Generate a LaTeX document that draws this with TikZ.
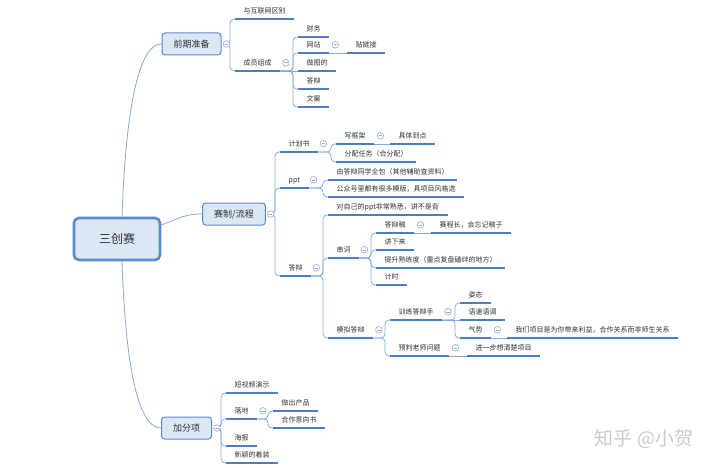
\documentclass[tikz,border=0pt]{standalone}
\usepackage{fontspec}
\setmainfont{Noto Sans CJK SC}
\usetikzlibrary{calc,backgrounds}
\definecolor{mapblue}{RGB}{74,125,196}
\definecolor{mapline}{RGB}{135,170,218}
\definecolor{mapfill}{RGB}{220,231,246}
\definecolor{mapedge}{RGB}{92,138,204}
\definecolor{maptext}{RGB}{50,50,50}
\definecolor{mapfold}{RGB}{150,172,205}
\tikzset{
  rootbox/.style={rectangle, rounded corners=5pt, draw=mapedge, fill=mapfill, line width=2.6pt,
                  minimum width=86pt, minimum height=42pt, text=maptext,
                  font=\fontsize{12}{14}\selectfont},
  topic/.style  ={rectangle, rounded corners=3pt, draw=mapedge, fill=mapfill, line width=1pt,
                  minimum height=22pt, inner xsep=11.5pt, text=maptext,
                  font=\fontsize{9}{11}\selectfont},
  uline/.style  ={draw=mapblue, line width=1.8pt},
  leaf/.style   ={anchor=south west, inner xsep=8.5pt, inner ysep=4.5pt,
                  text height=6.2pt, text depth=0.8pt, text=maptext,
                  font=\fontsize{7}{8}\selectfont,
                  append after command={(\tikzlastnode.south west) edge[uline] (\tikzlastnode.south east)}},
  fold/.style   ={circle, draw=mapfold, fill=white, line width=0.6pt, minimum size=6.6pt, inner sep=0pt,
                  path picture={\draw[mapfold, line width=0.6pt]
                    ([xshift=-1.7pt]path picture bounding box.center) --
                    ([xshift=1.7pt]path picture bounding box.center);}},
  conn/.style   ={line width=0.8pt, mapline, rounded corners=4pt},
  elbow/.style  ={to path={-- ([xshift=-5pt]\tikztotarget |- \tikztostart) |- (\tikztotarget)}},
  stamp/.style  ={text=black!20, font=\fontsize{19}{21}\selectfont},
}

\begin{document}
\begin{tikzpicture}[x=1pt,y=-1pt]
\useasboundingbox (0,0) rectangle (720,468);
% central topic and main branches
\node[rootbox] (root)  at (117,239)   {三创赛};
\node[topic]   (pre)   at (191.5,44)  {前期准备};
\node[topic]   (rules) at (234,214)   {赛制/流程};
\node[topic]   (bonus) at (186.5,428) {加分项};
% 前期准备
\node[leaf] (diff)  at (235,19)  {与互联网区别};
\node[leaf] (team)  at (235,71)  {成员组成};
\node[leaf] (fin)   at (298,37)  {财务};
\node[leaf] (web)   at (298,53)  {网站};
\node[leaf] (art)   at (298,71)  {做图的};
\node[leaf] (qa)    at (298,89)  {答辩};
\node[leaf] (copy)  at (298,107) {文案};
\node[leaf] (paste) at (347,53)  {贴链接};
% 赛制/流程
\node[leaf] (plan)    at (280,152) {计划书};
\node[leaf] (ppt)     at (280,188) {ppt};
\node[leaf] (defense) at (280,276) {答辩};
\node[leaf] (frame)   at (336,144) {写框架};
\node[leaf] (detail)  at (390,144) {具体到点};
\node[leaf] (split)   at (336,162) {分配任务（合分配）};
\node[leaf] (solo)    at (328,180) {由答辩同学全包（其他辅助查资料）};
\node[leaf] (tmpl)    at (328,197) {公众号里都有很多模版，具项目风格选};
\node[leaf] (know)    at (328,215) {对自己的ppt非常熟悉，讲不是背};
\node[leaf] (script)  at (328,258) {串词};
\node[leaf] (mock)    at (328,338) {模拟答辩};
\node[leaf] (draft)   at (376,233) {答辩稿};
\node[leaf] (long)    at (431,233) {赛程长，会忘记稿子};
\node[leaf] (speak)   at (376,250) {讲下来};
\node[leaf] (fluent)  at (376,268) {提升熟练度（重点复盘磕绊的地方）};
\node[leaf] (timer)   at (376,285) {计时};
\node[leaf] (train)   at (390,320) {训练答辩手};
\node[leaf] (guess)   at (390,356) {预判老师问题};
\node[leaf] (think)   at (467,356) {进一步想清楚项目};
\node[leaf] (pose)    at (460,303) {姿态};
\node[leaf] (tone)    at (460,320) {语速语调};
\node[leaf] (aura)    at (460,338) {气势};
\node[leaf] (gain)    at (507,338) {我们项目是为你带来利益，合作关系而非师生关系};
% 加分项
\node[leaf] (video)  at (226,393) {短视频演示};
\node[leaf] (land)   at (226,419) {落地};
\node[leaf] (poster) at (226,446) {海报};
\node[leaf] (dress)  at (226,463) {新颖的着装};
\node[leaf] (prod)   at (273,411) {做出产品};
\node[leaf] (coop)   at (273,428) {合作意向书};
% fold markers
\node[fold] (pre-f)     at ([xshift=5pt]pre.east)       {};
\node[fold] (rules-f)   at ([xshift=5pt]rules.east)     {};
\node[fold] (bonus-f)   at ([xshift=5pt]bonus.east)     {};
\node[fold] (team-f)    at ([xshift=5.5pt]team.east)    {};
\node[fold] (web-f)     at ([xshift=6pt]web.east)       {};
\node[fold] (plan-f)    at ([xshift=5pt]plan.east)      {};
\node[fold] (frame-f)   at ([xshift=6pt]frame.east)     {};
\node[fold] (ppt-f)     at ([xshift=5pt]ppt.east)       {};
\node[fold] (defense-f) at ([xshift=5pt]defense.east)   {};
\node[fold] (script-f)  at ([xshift=5pt]script.east)    {};
\node[fold] (draft-f)   at ([xshift=6pt]draft.east)     {};
\node[fold] (mock-f)    at ([xshift=5.5pt]mock.east)    {};
\node[fold] (train-f)   at ([xshift=5.5pt]train.east)   {};
\node[fold] (aura-f)    at ([xshift=6pt]aura.east)      {};
\node[fold] (guess-f)   at ([xshift=6pt]guess.east)     {};
\node[fold] (land-f)    at ([xshift=5.5pt]land.east)    {};
% watermark
\node[stamp] (zh) at (644,439) {知乎 @小贺};
% connectors
\begin{scope}[on background layer]
\fill[white] (0,0) rectangle (720,468);
\draw[conn] ([xshift=5pt]root.north) .. controls (125,130) and (135,44) .. (pre.west);
\draw[conn] ([xshift=5pt]root.south) .. controls (125,350) and (135,428) .. (bonus.west);
\draw[conn] ([yshift=14pt]root.east) .. controls (180,218) and (185,214) .. (rules.west);
\foreach \k in {diff,team} \draw[conn] (pre-f.center) to[elbow] (\k.south west);
\foreach \k in {fin,web,qa,copy} \draw[conn] (team.south east) to[elbow] (\k.south west);
\draw[conn] (team.south east) -- (art.south west);
\draw[conn] (web.south east) -- (paste.south west);
\foreach \k in {plan,ppt,defense} \draw[conn] (rules-f.center) to[elbow] (\k.south west);
\foreach \k in {frame,split} \draw[conn] (plan.south east) to[elbow] (\k.south west);
\draw[conn] (frame.south east) -- (detail.south west);
\foreach \k in {solo,tmpl} \draw[conn] (ppt.south east) to[elbow] (\k.south west);
\foreach \k in {know,script,mock} \draw[conn] (defense.south east) to[elbow] (\k.south west);
\foreach \k in {draft,speak,fluent,timer} \draw[conn] (script.south east) to[elbow] (\k.south west);
\draw[conn] (draft.south east) -- (long.south west);
\foreach \k in {train,guess} \draw[conn] (mock.south east) to[elbow] (\k.south west);
\draw[conn] (guess.south east) -- (think.south west);
\foreach \k in {pose,aura} \draw[conn] (train.south east) to[elbow] (\k.south west);
\draw[conn] (train.south east) -- (tone.south west);
\draw[conn] (aura.south east) -- (gain.south west);
\foreach \k in {video,land,poster,dress} \draw[conn] (bonus-f.center) to[elbow] (\k.south west);
\foreach \k in {prod,coop} \draw[conn] (land.south east) to[elbow] (\k.south west);
\end{scope}
\end{tikzpicture}
\end{document}
